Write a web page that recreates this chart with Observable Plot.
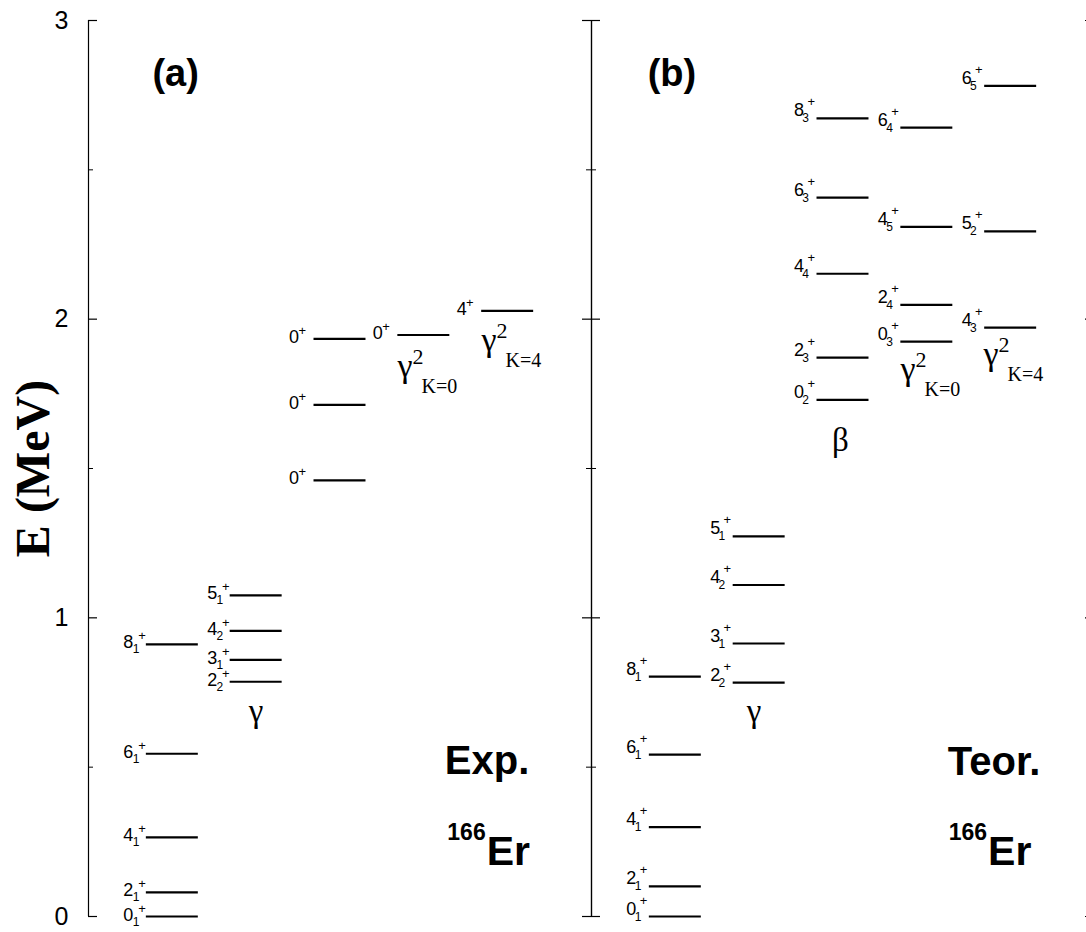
<!DOCTYPE html>
<html><head><meta charset="utf-8">
<script src="https://cdn.jsdelivr.net/npm/d3@7"></script>
<script src="https://cdn.jsdelivr.net/npm/@observablehq/plot@0.6"></script>
<style>
html,body{margin:0;padding:0;background:#fff;overflow:hidden;}
#chart{width:1086px;height:932px;overflow:hidden;}
#chart svg{display:block;max-width:none !important;width:1094px !important;height:932px !important;}
</style></head><body><div id="chart"></div>
<script>
// ---------- data ----------
const panels = ["a", "b"];
const yMajor = [0, 1, 2, 3];
const yMinor = [0.5, 1.5, 2.5];

// (a) experimental 166Er (MeV)
const expGroundE = [0, 0.081, 0.265, 0.545, 0.911];
const expGroundJ = ["0", "2", "4", "6", "8"];
const expGroundN = ["1", "1", "1", "1", "1"];
const expGammaE = [0.786, 0.859, 0.956, 1.075];
const expGammaJ = ["2", "3", "4", "5"];
const expGammaN = ["2", "1", "2", "1"];
const expZeroE = [1.460, 1.713, 1.934];
const expZeroJ = ["0", "0", "0"];
const expK0E = [1.947];
const expK0J = ["0"];
const expK4E = [2.028];
const expK4J = ["4"];

// (b) theoretical 166Er (MeV)
const thGroundE = [0, 0.101, 0.299, 0.542, 0.803];
const thGroundJ = ["0", "2", "4", "6", "8"];
const thGroundN = ["1", "1", "1", "1", "1"];
const thGammaE = [0.783, 0.914, 1.110, 1.273];
const thGammaJ = ["2", "3", "4", "5"];
const thGammaN = ["2", "1", "2", "1"];
const thBetaE = [1.730, 1.871, 2.152, 2.407, 2.672];
const thBetaJ = ["0", "2", "4", "6", "8"];
const thBetaN = ["2", "3", "4", "3", "3"];
const thK0E = [1.925, 2.048, 2.309, 2.641];
const thK0J = ["0", "2", "4", "6"];
const thK0N = ["3", "4", "5", "4"];
const thK4E = [1.972, 2.294, 2.781];
const thK4J = ["4", "5", "6"];
const thK4N = ["3", "2", "5"];

function band(panel, col, E, J, N) {
  return E.map((e, i) => ({panel, col, E: e, J: J[i], N: N ? N[i] : null}));
}
const levels = [
  ...band("a", 1, expGroundE, expGroundJ, expGroundN),
  ...band("a", 2, expGammaE, expGammaJ, expGammaN),
  ...band("a", 3, expZeroE, expZeroJ, null),
  ...band("a", 4, expK0E, expK0J, null),
  ...band("a", 5, expK4E, expK4J, null),
  ...band("b", 1, thGroundE, thGroundJ, thGroundN),
  ...band("b", 2, thGammaE, thGammaJ, thGammaN),
  ...band("b", 3, thBetaE, thBetaJ, thBetaN),
  ...band("b", 4, thK0E, thK0J, thK0N),
  ...band("b", 5, thK4E, thK4J, thK4N)
];

// annotations
const panelTags = [{panel: "a", t: "(a)", x: 1.04, E: 2.78}, {panel: "b", t: "(b)", x: 0.96, E: 2.78}];
const panelNames = [{panel: "a", t: "Exp.", x: 4.25, E: 0.477}, {panel: "b", t: "Teor.", x: 4.25, E: 0.474}];
const nucleus = [{panel: "a", x: 4.75, E: 0.171}, {panel: "b", x: 4.73, E: 0.171}];
const bandNames = [
  {panel: "a", t: "γ", x: 2.0, E: 0.650},
  {panel: "b", t: "γ", x: 1.94, E: 0.650},
  {panel: "b", t: "β", x: 2.97, E: 1.559}
];
const gamma2 = [
  {panel: "a", k: "K=0", x: 3.686, E: 1.808},
  {panel: "a", k: "K=4", x: 4.688, E: 1.895},
  {panel: "b", k: "K=0", x: 3.686, E: 1.795},
  {panel: "b", k: "K=4", x: 4.676, E: 1.845}
];
const yTickLabels = yMajor.map(v => ({panel: "a", v}));

// ---------- layout ----------
const SANS = "Liberation Sans, Arial, Helvetica, sans-serif";
const SERIF = "Liberation Serif, Times New Roman, serif";
const W = 1094, ML = 88;
const PW = (W - ML) / 2;  // panel width in px
const HW = 0.31;          // half width of a level line (column units)

function levelLabels(panel, dyBase, subDy, supDy, supDx, subDx) {
  const withN = levels.filter(d => d.panel === panel && d.N);
  const noN = levels.filter(d => d.panel === panel && !d.N);
  const c = {x: d => d.col - HW, y: "E", fx: "panel", textAnchor: "end", lineAnchor: "bottom", fontFamily: SANS, fill: "#000"};
  return [
    Plot.text(withN, {...c, text: "J", fontSize: 18, dx: -13, dy: dyBase}),
    Plot.text(withN, {...c, text: "N", fontSize: 12, dx: subDx, dy: dyBase + subDy}),
    Plot.text(withN, {...c, text: () => "+", fontSize: 13, dx: supDx, dy: dyBase + supDy}),
    Plot.text(noN, {...c, text: "J", fontSize: 18, dx: -15, dy: dyBase}),
    Plot.text(noN, {...c, text: () => "+", fontSize: 13, dx: -8, dy: dyBase - 8})
  ];
}

const chart = Plot.plot({
  width: W,
  height: 932,
  marginLeft: ML,
  marginRight: 0,
  marginTop: 20,
  marginBottom: 16,
  style: {background: "#fff", color: "#000"},
  fx: {domain: panels, axis: null, padding: 0},
  x: {domain: [0, 6], axis: null},
  y: {domain: [0, 3], axis: null},
  marks: [
    // frame lines and inward ticks
    Plot.ruleX([0, 6], {y1: 0, y2: 3, stroke: "#000", strokeWidth: 1.2}),
    Plot.tickY(yMajor, {y: d => d, insetRight: PW - 9, stroke: "#000", strokeWidth: 1.2}),
    Plot.tickY(yMajor, {y: d => d, insetLeft: PW - 9, stroke: "#000", strokeWidth: 1.2}),
    Plot.tickY(yMinor, {y: d => d, insetRight: PW - 5, stroke: "#000", strokeWidth: 1}),
    Plot.tickY(yMinor, {y: d => d, insetLeft: PW - 5, stroke: "#000", strokeWidth: 1}),
    // y tick labels and title
    Plot.text(yTickLabels, {x: 0, y: "v", fx: "panel", text: d => String(d.v), dx: -20, textAnchor: "end", fontSize: 25, fontFamily: SANS, fill: "#000"}),
    Plot.text([{panel: "a"}], {x: -0.47, y: 1.5, fx: "panel", text: () => "E (MeV)", rotate: -90, fontSize: 48, fontWeight: "bold", fontFamily: SERIF, lineAnchor: "bottom", fill: "#000"}),
    // level lines
    Plot.ruleY(levels, {y: "E", x1: d => d.col - HW, x2: d => d.col + HW, fx: "panel", stroke: "#000", strokeWidth: 2.2}),
    // level labels
    ...levelLabels("a", 4, 5, -8, -0.5, -7),
    ...levelLabels("b", -2, 6, -10, -2, -8),
    // band names
    Plot.text(bandNames, {x: "x", y: "E", fx: "panel", text: "t", fontSize: 33, fontFamily: SERIF, lineAnchor: "bottom", fill: "#000"}),
    Plot.text(gamma2, {x: "x", y: "E", fx: "panel", text: () => "γ", textAnchor: "start", fontSize: 34, fontFamily: SERIF, lineAnchor: "bottom", fill: "#000"}),
    Plot.text(gamma2, {x: "x", y: "E", fx: "panel", text: () => "2", textAnchor: "start", dx: 15, dy: -13, fontSize: 22, fontFamily: SERIF, lineAnchor: "bottom", fill: "#000"}),
    Plot.text(gamma2, {x: "x", y: "E", fx: "panel", text: "k", textAnchor: "start", dx: 24, dy: 16, fontSize: 20, fontFamily: SERIF, lineAnchor: "bottom", fill: "#000"}),
    // panel annotations
    Plot.text(panelTags, {x: "x", y: "E", fx: "panel", text: "t", fontSize: 38, fontWeight: "bold", fontFamily: SANS, lineAnchor: "bottom", fill: "#000"}),
    Plot.text(panelNames, {x: "x", y: "E", fx: "panel", text: "t", textAnchor: "start", fontSize: 40, fontWeight: "bold", fontFamily: SANS, lineAnchor: "bottom", fill: "#000"}),
    Plot.text(nucleus, {x: "x", y: "E", fx: "panel", text: () => "Er", textAnchor: "start", fontSize: 41, fontWeight: "bold", fontFamily: SANS, lineAnchor: "bottom", fill: "#000"}),
    Plot.text(nucleus, {x: "x", y: "E", fx: "panel", text: () => "166", textAnchor: "end", dx: -1, dy: -25, fontSize: 23, fontWeight: "bold", fontFamily: SANS, lineAnchor: "bottom", fill: "#000"})
  ]
});
document.getElementById("chart").appendChild(chart);
</script>
</body></html>
